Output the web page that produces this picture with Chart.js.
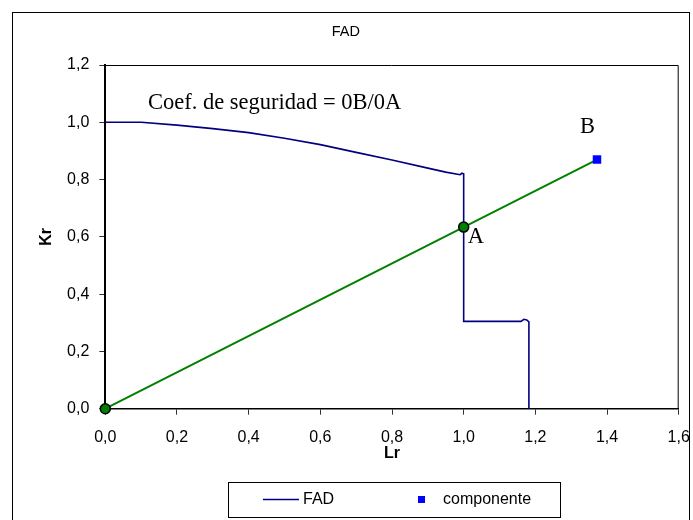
<!DOCTYPE html>
<html lang="es">
<head>
<meta charset="utf-8">
<title>FAD</title>
<script src="https://cdn.jsdelivr.net/npm/chart.js@4.4.1/dist/chart.umd.min.js"></script>
<style>
  html, body { margin: 0; padding: 0; background: #fff; }
  canvas { display: block; }
</style>
</head>
<body>
<canvas id="grafFad" width="693" height="520"></canvas>
<script>
// Curva FAD (Lr, Kr)
const fadLr = [0, 0.1, 0.2, 0.3, 0.4, 0.5, 0.6, 0.7, 0.8, 0.9, 0.95, 0.99, 0.995, 1.0, 1.0, 1.16, 1.168, 1.176, 1.182, 1.182];
const fadKr = [1.0, 1.0, 0.99, 0.978, 0.964, 0.944, 0.922, 0.895, 0.868, 0.84, 0.826, 0.817, 0.822, 0.82, 0.305, 0.305, 0.312, 0.31, 0.303, 0];

// Recta de carga: origen -> A (corte con la FAD) -> componente
const rectaLr = [0, 1.0, 1.372];
const rectaKr = [0, 0.634, 0.87];

// Punto del componente (B)
const componenteLr = [1.372];
const componenteKr = [0.87];

// Marcas de los ejes
const ticksLr = [0, 0.2, 0.4, 0.6, 0.8, 1.0, 1.2, 1.4, 1.6];
const ticksKr = [0, 0.2, 0.4, 0.6, 0.8, 1.0, 1.2];

const puntos = (xs, ys) => xs.map((x, i) => ({x: x, y: ys[i]}));
const coma = v => Number(v).toFixed(1).replace('.', ',');

Chart.defaults.font.family = '"Liberation Sans", Arial, sans-serif';
Chart.defaults.color = '#000';

const fuente = 'Liberation Sans';

// marco exterior, marco del area de trazado, textos y leyenda
const extras = {
    id: 'extras',
    afterDraw(chart) {
        const {ctx, chartArea: a, scales: {x, y}} = chart;
        ctx.save();

        ctx.strokeStyle = '#000';
        ctx.lineWidth = 1;
        ctx.strokeRect(12.5, 12.5, 677, 530);

        ctx.beginPath();
        ctx.moveTo(a.left, a.top + 0.5);
        ctx.lineTo(a.right - 0.5, a.top + 0.5);
        ctx.lineTo(a.right - 0.5, a.bottom);
        ctx.stroke();

        ctx.fillStyle = '#000';
        ctx.textBaseline = 'middle';
        ctx.textAlign = 'left';
        ctx.font = '22.5px "Liberation Serif"';
        ctx.fillText('Coef. de seguridad = 0B/0A', 148, 103);

        const ax = x.getPixelForValue(rectaLr[1]);
        const ay = y.getPixelForValue(rectaKr[1]);
        ctx.fillText('A', ax + 4, ay + 10);

        const bx = x.getPixelForValue(componenteLr[0]);
        const by = y.getPixelForValue(componenteKr[0]);
        ctx.fillText('B', bx - 17, by - 32);

        // leyenda
        const ds = chart.data.datasets;
        ctx.strokeRect(228.5, 482.5, 332, 35);
        ctx.strokeStyle = ds[0].borderColor;
        ctx.lineWidth = 1.5;
        ctx.beginPath();
        ctx.moveTo(263, 499.5);
        ctx.lineTo(299, 499.5);
        ctx.stroke();
        ctx.fillStyle = ds[2].backgroundColor;
        ctx.fillRect(418, 496, 7, 7);
        ctx.fillStyle = '#000';
        ctx.font = '16px "' + fuente + '"';
        ctx.fillText(ds[0].label, 303, 500);
        ctx.fillText(ds[2].label, 443, 500);

        ctx.restore();
    }
};

const $ctx = document.getElementById('grafFad').getContext('2d');

const chart = new Chart($ctx, {
    type: 'scatter',
    data: {
        datasets: [
            {
                label: 'FAD',
                data: puntos(fadLr, fadKr),
                showLine: true,
                borderColor: '#000080',
                backgroundColor: '#000080',
                borderWidth: 1.6,
                pointRadius: 0,
                order: 3,
            },
            {
                label: 'recta',
                data: puntos(rectaLr, rectaKr),
                showLine: true,
                borderColor: '#008000',
                borderWidth: 2,
                pointRadius: [5, 5, 0],
                pointBackgroundColor: '#008000',
                pointBorderColor: '#000',
                pointBorderWidth: 1.5,
                clip: false,
                order: 2,
            },
            {
                label: 'componente',
                data: puntos(componenteLr, componenteKr),
                showLine: false,
                pointStyle: 'rect',
                pointRadius: 6,
                backgroundColor: '#0000ff',
                borderColor: '#0000ff',
                borderWidth: 0,
                clip: false,
                order: 1,
            }
        ]
    },
    options: {
        responsive: false,
        animation: false,
        layout: {
            padding: {left: 13, right: 14.3, top: 0, bottom: 51.3}
        },
        plugins: {
            legend: {display: false},
            tooltip: {enabled: false},
            title: {
                display: true,
                text: 'FAD',
                color: '#000',
                font: {size: 14.5, weight: 'normal'},
                padding: {top: 23.4, bottom: 24.2}
            }
        },
        scales: {
            x: {
                type: 'linear',
                min: 0,
                max: 1.6,
                afterBuildTicks: s => { s.ticks = ticksLr.map(v => ({value: v})); },
                afterFit: s => { s.height = 60; s.paddingLeft = 0; s.paddingRight = 0; },
                ticks: {
                    callback: coma,
                    font: {size: 16},
                    color: '#000',
                    padding: 13,
                    maxRotation: 0
                },
                grid: {
                    drawOnChartArea: false,
                    drawTicks: true,
                    tickLength: 6,
                    color: '#333'
                },
                border: {color: '#000', width: 1.5},
                title: {
                    display: true,
                    text: 'Lr',
                    color: '#000',
                    font: {size: 16, weight: 'bold'},
                    padding: {top: 0, bottom: 6}
                }
            },
            y: {
                type: 'linear',
                min: 0,
                max: 1.2,
                afterBuildTicks: s => { s.ticks = ticksKr.map(v => ({value: v})); },
                afterFit: s => { s.width = 92.3; s.paddingTop = 0; s.paddingBottom = 0; },
                ticks: {
                    callback: coma,
                    font: {size: 16},
                    color: '#000',
                    padding: 10
                },
                grid: {
                    drawOnChartArea: false,
                    drawTicks: true,
                    tickLength: 6,
                    color: '#333'
                },
                border: {color: '#000', width: 2},
                title: {
                    display: true,
                    text: 'Kr',
                    color: '#000',
                    font: {size: 16, weight: 'bold'},
                    padding: {top: 24, bottom: 0}
                }
            }
        }
    },
    plugins: [extras]
});
</script>
</body>
</html>
